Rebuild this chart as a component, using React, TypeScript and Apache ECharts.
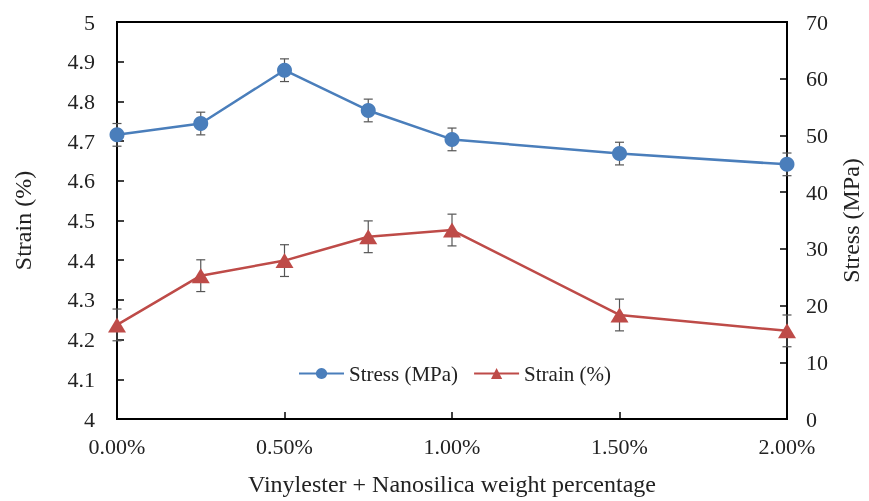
import React, { useEffect, useRef } from "react";
import * as echarts from "echarts";

const weightPct = [0, 0.25, 0.5, 0.75, 1.0, 1.5, 2.0];
const stressMPa = [50.1, 52.1, 61.5, 54.4, 49.3, 46.8, 44.9];
const stressErr = [2.0, 2.0, 2.0, 2.0, 2.0, 2.0, 2.0];
const strainPct = [4.237, 4.361, 4.399, 4.459, 4.476, 4.262, 4.222];
const strainErr = [0.04, 0.04, 0.04, 0.04, 0.04, 0.04, 0.04];

const FONT = "Times New Roman, Liberation Serif, DejaVu Serif, serif";
const BLUE = "#4A7EBB";
const RED = "#BE4B48";
const TXT = "#222";

function errorSeries(values: number[], errs: number[], yAxisIndex: number) {
  const data = weightPct.map((x, i) => [x, values[i] - errs[i], values[i] + errs[i]]);
  return {
    type: "custom",
    yAxisIndex,
    z: 1,
    silent: true,
    data,
    renderItem: (params: any, api: any) => {
      const x = api.value(0);
      const lo = api.coord([x, api.value(1)]);
      const hi = api.coord([x, api.value(2)]);
      const w = 4.5;
      const style = { stroke: "#555", lineWidth: 1.2 };
      return {
        type: "group",
        children: [
          { type: "line", shape: { x1: lo[0], y1: lo[1], x2: hi[0], y2: hi[1] }, style },
          { type: "line", shape: { x1: lo[0] - w, y1: lo[1], x2: lo[0] + w, y2: lo[1] }, style },
          { type: "line", shape: { x1: hi[0] - w, y1: hi[1], x2: hi[0] + w, y2: hi[1] }, style },
        ],
      };
    },
  };
}

export default function App() {
  const ref = useRef<HTMLDivElement>(null);
  useEffect(() => {
    if (!ref.current) return;
    document.body.style.margin = "0";
    document.body.style.overflow = "hidden";
    const chart = echarts.init(ref.current, null, { renderer: "svg" });
    chart.setOption({
      animation: false,
      textStyle: { fontFamily: FONT },
      grid: {
        left: 117,
        right: 82,
        top: 22,
        bottom: 82,
        outerBoundsMode: "none",
        containLabel: false,
        show: true,
        borderColor: "#000",
        borderWidth: 2,
      },
      legend: {
        left: 293,
        top: 358,
        itemWidth: 45,
        itemHeight: 14,
        itemGap: 15,
        textStyle: { fontFamily: FONT, fontSize: 21, color: TXT },
        data: ["Stress (MPa)", "Strain (%)"],
      },
      xAxis: {
        type: "value",
        min: 0,
        max: 2,
        interval: 0.5,
        name: "Vinylester + Nanosilica weight percentage",
        nameLocation: "middle",
        nameGap: 53,
        nameTextStyle: { fontFamily: FONT, fontSize: 24, color: TXT },
        axisLine: { show: true, lineStyle: { color: "#000", width: 2 } },
        axisTick: { show: true, inside: true, length: 7, lineStyle: { color: "#000", width: 1.5 } },
        axisLabel: {
          margin: 16,
          fontFamily: FONT,
          fontSize: 22,
          color: TXT,
          formatter: (v: number) => v.toFixed(2) + "%",
        },
        splitLine: { show: false },
      },
      yAxis: [
        {
          type: "value",
          min: 4,
          max: 5,
          interval: 0.1,
          position: "left",
          name: "Strain (%)",
          nameLocation: "middle",
          nameRotate: 90,
          nameGap: 82,
          nameTextStyle: { fontFamily: FONT, fontSize: 24, color: TXT },
          axisLine: { show: true, lineStyle: { color: "#000", width: 2 } },
          axisTick: { show: true, inside: true, length: 7, lineStyle: { color: "#000", width: 1.5 } },
          axisLabel: {
            margin: 22,
            fontFamily: FONT,
            fontSize: 22,
            color: TXT,
            formatter: (v: number) => {
              const r = Math.round(v * 10) / 10;
              return Number.isInteger(r) ? String(r) : r.toFixed(1);
            },
          },
          splitLine: { show: false },
        },
        {
          type: "value",
          min: 0,
          max: 70,
          interval: 10,
          position: "right",
          name: "Stress (MPa)",
          nameLocation: "middle",
          nameRotate: 90,
          nameGap: 52,
          nameTextStyle: { fontFamily: FONT, fontSize: 24, color: TXT },
          axisLine: { show: true, lineStyle: { color: "#000", width: 2 } },
          axisTick: { show: true, inside: true, length: 7, lineStyle: { color: "#000", width: 1.5 } },
          axisLabel: { margin: 19, fontFamily: FONT, fontSize: 22, color: TXT },
          splitLine: { show: false },
        },
      ],
      series: [
        errorSeries(stressMPa, stressErr, 1),
        errorSeries(strainPct, strainErr, 0),
        {
          name: "Stress (MPa)",
          type: "line",
          yAxisIndex: 1,
          z: 3,
          data: weightPct.map((x, i) => [x, stressMPa[i]]),
          symbol: "circle",
          symbolSize: 15,
          lineStyle: { color: BLUE, width: 2.5 },
          itemStyle: { color: BLUE },
        },
        {
          name: "Strain (%)",
          type: "line",
          yAxisIndex: 0,
          z: 3,
          data: weightPct.map((x, i) => [x, strainPct[i]]),
          symbol: "triangle",
          symbolSize: [18, 15],
          lineStyle: { color: RED, width: 2.5 },
          itemStyle: { color: RED },
        },
      ],
    });
    return () => chart.dispose();
  }, []);
  return <div ref={ref} style={{ width: 869, height: 501, position: "fixed", left: 0, top: 0 }} />;
}
